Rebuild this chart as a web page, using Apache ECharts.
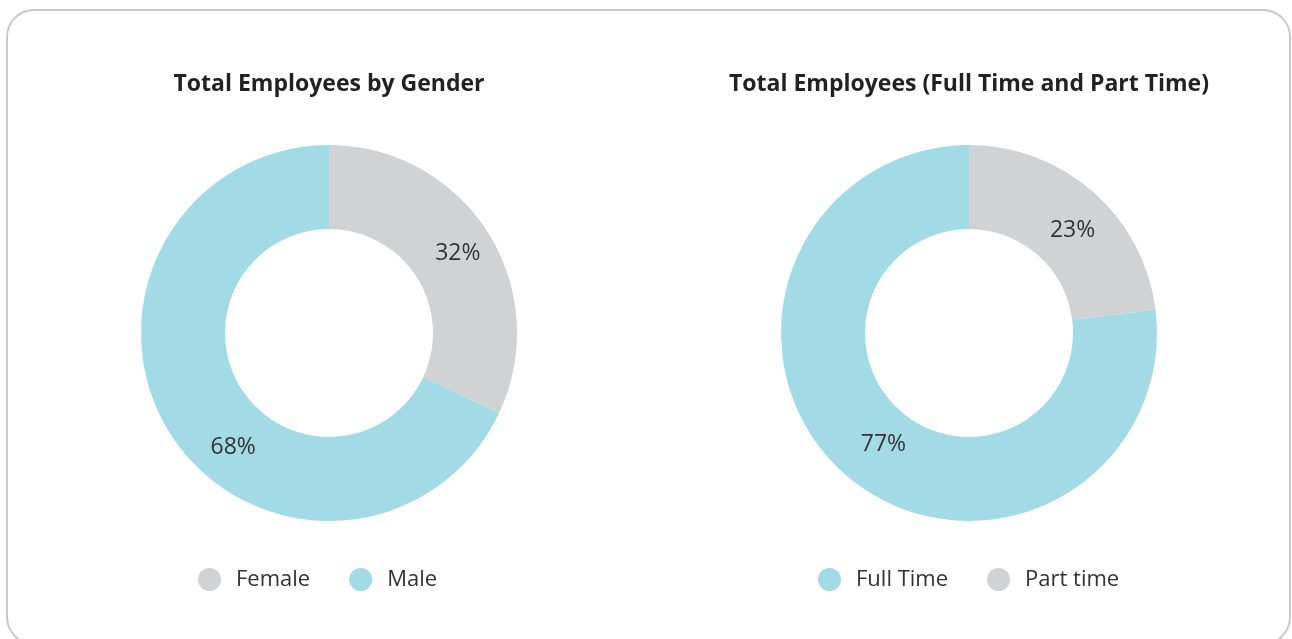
<!DOCTYPE html>
<html>
<head>
<meta charset="utf-8">
<script src="https://cdn.jsdelivr.net/npm/echarts@6/dist/echarts.min.js"></script>
<style>
html,body{margin:0;padding:0;background:#fff;}
#wrap{position:relative;width:1292px;height:639px;overflow:hidden;}
#frame{position:absolute;left:6px;top:9px;width:1285px;height:636px;border:2px solid #c9c9cb;border-radius:28px;box-sizing:border-box;}
#chart{position:absolute;left:0;top:0;width:1292px;height:639px;}
</style>
</head>
<body>
<div id="wrap"><div id="frame"></div><div id="chart"></div></div>
<script>
const genderTitle = 'Total Employees by Gender';
const genderCategories = ['Female', 'Male'];
const genderValues = [32, 68];
const timeTitle = 'Total Employees (Full Time and Part Time)';
const timeCategories = ['Part time', 'Full Time'];
const timeValues = [23, 77];
const timeLegendOrder = ['Full Time', 'Part time'];

const GRAY = '#d1d2d4';
const BLUE = '#a2dae6';
const colorMap = { 'Female': GRAY, 'Male': BLUE, 'Part time': GRAY, 'Full Time': BLUE };
const labelOffsets = { 'Female': [3, 0], 'Male': [30, 35], 'Part time': [5, 9], 'Full Time': [13, 0] };
const FONT = '"Open Sans", "Noto Sans", sans-serif';

function makeData(cats, vals) {
  return cats.map((c, i) => ({
    name: c, value: vals[i],
    itemStyle: { color: colorMap[c] },
    label: { offset: labelOffsets[c] }
  }));
}

const chart = echarts.init(document.getElementById('chart'), null, { renderer: 'canvas' });
const titleStyle = { fontFamily: FONT, fontSize: 23, fontWeight: 'bold', color: '#222' };
const legendBase = {
  orient: 'horizontal', top: 563, icon: 'circle', itemWidth: 23, itemHeight: 23, itemGap: 39,
  textStyle: { fontFamily: FONT, fontSize: 22, color: '#333', padding: [0, 0, 0, 10] }
};
const seriesBase = {
  type: 'pie', radius: [104, 188], startAngle: 90, clockwise: true,
  avoidLabelOverlap: false, silent: true,
  label: { show: true, position: 'inside', formatter: '{c}%', fontFamily: FONT, fontSize: 23, color: '#333' },
  labelLine: { show: false },
  itemStyle: { borderWidth: 0 },
  emphasis: { disabled: true }
};

chart.setOption({
  animation: false,
  title: [
    { text: genderTitle, left: 324, top: 68, textAlign: 'center', textStyle: titleStyle },
    { text: timeTitle, left: 964, top: 68, textAlign: 'center', textStyle: titleStyle }
  ],
  legend: [
    Object.assign({}, legendBase, { left: 193, data: genderCategories, seriesIndex: 0 }),
    Object.assign({}, legendBase, { left: 813, data: timeLegendOrder })
  ],
  series: [
    Object.assign({}, seriesBase, { name: 'gender', center: [329, 333], data: makeData(genderCategories, genderValues) }),
    Object.assign({}, seriesBase, { name: 'time', center: [969, 333], data: makeData(timeCategories, timeValues) })
  ]
});
</script>
</body>
</html>
